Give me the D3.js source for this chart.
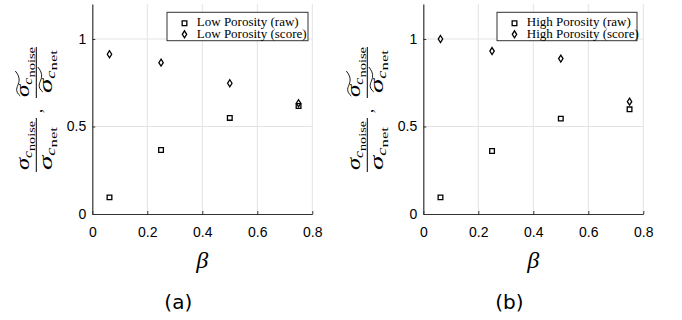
<!DOCTYPE html>
<html>
<head>
<meta charset="utf-8">
<script src="https://cdn.jsdelivr.net/npm/d3@7"></script>
<style>
  body { margin: 0; background: #fff; }
  svg { display: block; }
</style>
</head>
<body>
<div id="chart"></div>
<script>
// values
var betas = [0.0625, 0.25, 0.5, 0.75];
var lowRaw = [0.095, 0.366, 0.549, 0.617];
var lowScore = [0.913, 0.865, 0.747, 0.633];
var highRaw = [0.095, 0.36, 0.545, 0.598];
var highScore = [1.0, 0.931, 0.888, 0.642];
var xTicks = [0, 0.2, 0.4, 0.6, 0.8];
var yTicks = [0, 0.5, 1];
var gridX = [0.2, 0.4, 0.6, 0.8];
var gridY = [0.5, 1];
var panelTags = ['(a)', '(b)'];
var rawNames = ['Low Porosity (raw)', 'High Porosity (raw)'];
var scoreNames = ['Low Porosity (score)', 'High Porosity (score)'];

var width = 682, height = 320;
var svg = d3.select('#chart').append('svg')
    .attr('width', width)
    .attr('height', height);

var panels = [
    {left: 92.3, raw: lowRaw, score: lowScore, legendX: 167, legendW: 141},
    {left: 423.3, raw: highRaw, score: highScore, legendX: 497, legendW: 140}
];

var y = d3.scaleLinear().domain([0, 1.2]).range([214, 4]);

var squareSym = d3.symbol().type(d3.symbolSquare).size(22);
function diamondPath(cx, cy) {
    return 'M' + cx + ',' + (cy - 3.5) + 'L' + (cx + 2.2) + ',' + cy +
        'L' + cx + ',' + (cy + 3.5) + 'L' + (cx - 2.2) + ',' + cy + 'Z';
}

var serif = '"Liberation Serif", "DejaVu Serif", serif';
var sans = '"Liberation Sans", Arial, sans-serif';

panels.forEach(function(p, i) {
    var x = d3.scaleLinear().domain([0, 0.8]).range([p.left, p.left + 220]);
    var g = svg.append('g');

    // grid
    g.selectAll('.gx').data(gridX).enter().append('line')
        .attr('x1', d => x(d)).attr('x2', d => x(d))
        .attr('y1', y(0)).attr('y2', y(1.2))
        .attr('stroke', '#e3e3e3').attr('stroke-width', 1);
    g.selectAll('.gy').data(gridY).enter().append('line')
        .attr('x1', x(0)).attr('x2', x(0.8))
        .attr('y1', d => y(d)).attr('y2', d => y(d))
        .attr('stroke', '#e3e3e3').attr('stroke-width', 1);

    // axes
    var xAxis = d3.axisBottom(x).tickValues(xTicks).tickSizeInner(-3).tickSizeOuter(0)
        .tickPadding(13).tickFormat(d3.format('~g'));
    var yAxis = d3.axisLeft(y).tickValues(yTicks).tickSizeInner(-3).tickSizeOuter(0)
        .tickPadding(6).tickFormat(d3.format('~g'));

    var gx = g.append('g').attr('transform', 'translate(0,' + y(0) + ')').call(xAxis);
    var gy = g.append('g').attr('transform', 'translate(' + x(0) + ',0)').call(yAxis);
    [gx, gy].forEach(function(a) {
        a.select('.domain').attr('stroke', '#333').attr('stroke-width', 1.2);
        a.selectAll('.tick line').attr('stroke', '#333');
        a.selectAll('.tick text').attr('fill', '#000')
            .style('font-family', sans).style('font-size', '14px');
    });

    // markers
    var pts = betas.map((b, k) => ({b: b, raw: p.raw[k], score: p.score[k]}));
    g.selectAll('.sq').data(pts).enter().append('path')
        .attr('d', squareSym)
        .attr('transform', d => 'translate(' + x(d.b) + ',' + y(d.raw) + ')')
        .attr('fill', 'none').attr('stroke', '#000').attr('stroke-width', 1.3);
    g.selectAll('.dm').data(pts).enter().append('path')
        .attr('d', d => diamondPath(x(d.b), y(d.score)))
        .attr('fill', 'none').attr('stroke', '#000').attr('stroke-width', 1.3);

    // legend
    var lg = g.append('g');
    lg.append('rect')
        .attr('x', p.legendX).attr('y', 12.3)
        .attr('width', p.legendW).attr('height', 28.4)
        .attr('fill', '#fff').attr('stroke', '#333').attr('stroke-width', 1);
    var mx = p.legendX + 17.5;
    lg.append('path').attr('d', squareSym)
        .attr('transform', 'translate(' + mx + ',23.3)')
        .attr('fill', 'none').attr('stroke', '#000').attr('stroke-width', 1.3);
    lg.append('path').attr('d', diamondPath(mx, 34.3))
        .attr('fill', 'none').attr('stroke', '#000').attr('stroke-width', 1.3);
    lg.append('text').attr('x', mx + 12.3).attr('y', 26)
        .style('font-family', serif).style('font-size', '13px')
        .text(rawNames[i]);
    lg.append('text').attr('x', mx + 12.3).attr('y', 37.5)
        .style('font-family', serif).style('font-size', '13px')
        .text(scoreNames[i]);

    // x label
    g.append('text')
        .attr('x', x(0.4)).attr('y', 268)
        .attr('text-anchor', 'middle')
        .style('font-family', serif).style('font-style', 'italic').style('font-size', '24px')
        .text('β');

    // panel tag
    g.append('text')
        .attr('x', x(0.4) - 24).attr('y', 309)
        .attr('text-anchor', 'middle')
        .style('font-family', '"DejaVu Sans", sans-serif').style('font-size', '20px')
        .text(panelTags[i]);

    // y label: two fractions, rotated
    var yl = g.append('g').attr('transform', 'translate(' + (p.left - 56) + ',0) rotate(-90)');

    function frac(center, len, numCenter, numLen, denCenter, denLen, tilde) {
        yl.append('line')
            .attr('x1', center - len / 2).attr('x2', center + len / 2)
            .attr('y1', 0).attr('y2', 0)
            .attr('stroke', '#000').attr('stroke-width', 1);
        var num = yl.append('text').attr('x', numCenter).attr('y', -7)
            .attr('text-anchor', 'middle')
            .attr('textLength', numLen).attr('lengthAdjust', 'spacingAndGlyphs')
            .style('font-family', serif).style('font-style', 'italic');
        num.append('tspan').style('font-size', '19px').text('σ');
        num.append('tspan').attr('dy', 3).style('font-size', '12px').text('c');
        num.append('tspan').attr('dy', 2.5).style('font-style', 'normal').style('font-size', '11px').text('noise');
        var den = yl.append('text').attr('x', denCenter).attr('y', 15.5)
            .attr('text-anchor', 'middle')
            .attr('textLength', denLen).attr('lengthAdjust', 'spacingAndGlyphs')
            .style('font-family', serif).style('font-style', 'italic');
        den.append('tspan').style('font-size', '19px').text('σ');
        den.append('tspan').attr('dy', 3).style('font-size', '12px').text('c');
        den.append('tspan').attr('dy', 2.5).style('font-style', 'normal').style('font-size', '11px').text('net');
        if (tilde) {
            var n0 = numCenter - numLen / 2;
            var d0 = denCenter - denLen / 2;
            [[n0, -17], [d0, 5.5]].forEach(function(t) {
                var u = t[0], v = t[1];
                yl.append('path')
                    .attr('d', 'M' + (u + 1) + ',' + (v + 1) +
                        ' C' + (u + 6) + ',' + (v - 5) + ' ' + (u + 10) + ',' + (v - 2) + ' ' + (u + 13) + ',' + (v - 1) +
                        ' S' + (u + 20) + ',' + (v + 1) + ' ' + (u + 26) + ',' + (v - 4))
                    .attr('fill', 'none').attr('stroke', '#000').attr('stroke-width', 0.9);
            });
        }
    }
    frac(-145, 54, -145.5, 49, -148.5, 43, false);
    yl.append('text').attr('x', -113).attr('y', 6)
        .style('font-family', serif).style('font-size', '16px').text(',');
    frac(-72.5, 51, -72, 50, -71.5, 43, true);
});
</script>
</body>
</html>
